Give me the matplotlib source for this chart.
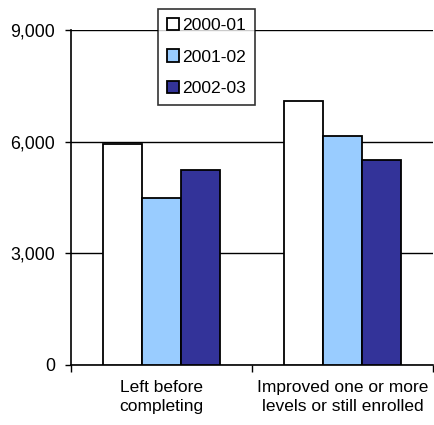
import numpy as np
import matplotlib.pyplot as plt

categories = ['Left before\ncompleting', 'Improved one or more\nlevels or still enrolled']
series = ['2000-01', '2001-02', '2002-03']
v2000 = [5950, 7100]
v2001 = [4480, 6150]
v2002 = [5240, 5500]
colors = ['white', '#99CCFF', '#333399']

plt.rcParams['font.family'] = ['Liberation Sans', 'DejaVu Sans']
fig = plt.figure(figsize=(4.35, 4.25), dpi=100)
ax = fig.add_axes([0.1632, 0.1412, 0.832, 0.7882])

x = np.arange(len(categories))
w = 0.215
for i, (vals, c, lab) in enumerate(zip([v2000, v2001, v2002], colors, series)):
    ax.bar(x + (i - 1) * w, vals, w, color=c, edgecolor='black', linewidth=1.3, label=lab, zorder=3)

ax.set_xlim(-0.5, 1.5)
ax.set_ylim(0, 9000)
ax.set_yticks([0, 3000, 6000, 9000])
ax.set_yticklabels(['0', '3,000', '6,000', '9,000'], fontsize=12.8)
ax.yaxis.grid(True, color='black', linewidth=1, zorder=0)
ax.set_xticks([-0.5, 0.5, 1.5])
ax.set_xticklabels([])
ax.set_xticks(x, minor=True)
ax.set_xticklabels(categories, minor=True, fontsize=12.5, linespacing=1.32)
ax.tick_params(axis='x', which='minor', length=0, pad=11)
ax.tick_params(axis='x', which='major', length=5, width=1, direction='out')
ax.tick_params(axis='y', length=4.5, width=1, direction='out', pad=7)
for s in ['top', 'right']:
    ax.spines[s].set_visible(False)
ax.spines['left'].set_linewidth(1.2)
ax.spines['bottom'].set_linewidth(1.2)

leg = ax.legend(loc='upper left', bbox_to_anchor=(0.2403, 1.0627), borderaxespad=0,
                fontsize=12.6, frameon=True, fancybox=False, edgecolor='black',
                handlelength=0.7, handleheight=0.7, handletextpad=0.2,
                labelspacing=0.93, borderpad=0.5)
leg.get_frame().set_linewidth(1.2)
leg.set_zorder(5)

fig.savefig('out.png', dpi=100)
